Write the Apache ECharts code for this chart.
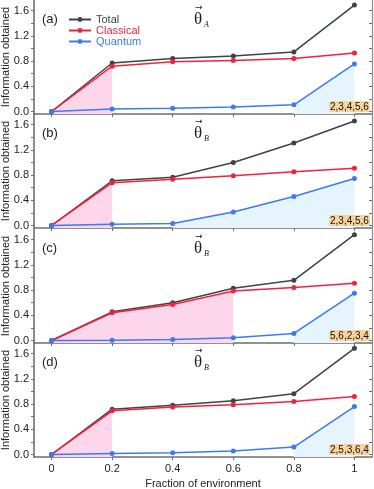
<!DOCTYPE html>
<html>
<head>
<meta charset="utf-8">
<script src="https://cdn.jsdelivr.net/npm/echarts@6/dist/echarts.min.js"></script>
<style>html,body{margin:0;padding:0;background:#fff}#c{width:374px;height:489px}</style>
</head>
<body>
<div id="c"></div>
<script>
const xs = [0, 0.2, 0.4, 0.6, 0.8, 1];
const xTickLabels = ['0', '0.2', '0.4', '0.6', '0.8', '1'];
const yTicks = [0, 0.2, 0.4, 0.6, 0.8, 1.0, 1.2, 1.4, 1.6];
const yLabelVals = [0, 0.4, 0.8, 1.2, 1.6];

const totalA = [0, 0.77, 0.84, 0.88, 0.945, 1.69];
const classicalA = [0, 0.72, 0.79, 0.81, 0.84, 0.93];
const quantumA = [0, 0.04, 0.05, 0.07, 0.105, 0.755];

const totalB = [0, 0.71, 0.765, 1.0, 1.31, 1.66];
const classicalB = [0, 0.68, 0.735, 0.79, 0.855, 0.91];
const quantumB = [0, 0.02, 0.03, 0.215, 0.46, 0.745];

const totalC = [0, 0.455, 0.6, 0.83, 0.955, 1.68];
const classicalC = [0, 0.44, 0.57, 0.785, 0.84, 0.91];
const quantumC = [0, 0.005, 0.016, 0.043, 0.112, 0.75];

const totalD = [0, 0.72, 0.78, 0.854, 0.965, 1.685];
const classicalD = [0, 0.693, 0.752, 0.79, 0.843, 0.92];
const quantumD = [0, 0.016, 0.027, 0.054, 0.118, 0.76];

const panelLabels = ['(a)', '(b)', '(c)', '(d)'];
const thetaSubs = ['A', 'B', 'B', 'B'];
const orderLabels = ['2,3,4,5,6', '2,3,4,5,6', '5,6,2,3,4', '2,5,3,6,4'];
const pinkEndIdx = [1, 1, 3, 1];
const blueStartIdx = [4, 2, 4, 4];

const totals = [totalA, totalB, totalC, totalD];
const classicals = [classicalA, classicalB, classicalC, classicalD];
const quantums = [quantumA, quantumB, quantumC, quantumD];

const C_TOTAL = '#3d4542', C_CLASS = '#f2213d', C_QUANT = '#3c7af2';
const C_PINK = '#fcd6ea', C_BLUE = '#e6f4fd';
const FONT = 'Liberation Sans, Arial, sans-serif';

const tops = [0, 114, 229, 343];
const H = 114;
const YMIN = -0.04, YMAX = 1.77, XMIN = -0.058, XMAX = 1.058;

const grids = [], xAxes = [], yAxes = [], series = [], graphics = [];
const pairs = a => xs.map((x, i) => [x, a[i]]);

for (let p = 0; p < 4; p++) {
  grids.push({left: 34, right: 2, top: tops[p], height: H, containLabel: false, outerBoundsMode: 'none'});
  const last = p === 3;
  xAxes.push({
    type: 'value', gridIndex: p, min: XMIN, max: XMAX, position: 'bottom',
    axisLine: {show: true, onZero: false, lineStyle: {color: '#6e6e6e', width: 1.6}},
    axisTick: {show: true, inside: false, length: 3, customValues: xs, lineStyle: {color: '#6e6e6e', width: 1}},
    axisLabel: {show: last, customValues: xs, margin: 6, fontSize: 11, color: '#222', fontFamily: FONT,
      formatter: v => { const i = xs.findIndex(x => Math.abs(x - v) < 1e-6); return i >= 0 ? xTickLabels[i] : ''; }},
    splitLine: {show: false},
    name: last ? 'Fraction of environment' : '', nameLocation: 'middle', nameGap: 21, nameMoveOverlap: false,
    nameTextStyle: {fontSize: 11, color: '#222', fontFamily: FONT}
  });
  yAxes.push({
    type: 'value', gridIndex: p, min: YMIN, max: YMAX, position: 'left',
    axisLine: {show: true, onZero: false, lineStyle: {color: '#6e6e6e', width: 1.6}},
    axisTick: {show: true, inside: false, length: 3, customValues: yTicks, lineStyle: {color: '#6e6e6e', width: 1}},
    axisLabel: {show: true, customValues: yLabelVals, margin: 5, fontSize: 11, color: '#222', fontFamily: FONT,
      formatter: v => v.toFixed(1)},
    splitLine: {show: false},
    name: 'Information obtained', nameLocation: 'middle', nameGap: 23, nameMoveOverlap: false,
    nameTextStyle: {fontSize: 11, color: '#222', fontFamily: FONT}
  });
  yAxes.push({
    type: 'value', gridIndex: p, min: YMIN, max: YMAX, position: 'right',
    axisLine: {show: true, onZero: false, lineStyle: {color: '#8a8a8a', width: 1.2}},
    axisTick: {show: true, inside: true, length: 3, customValues: yTicks, lineStyle: {color: '#6e6e6e', width: 1}},
    axisLabel: {show: false}, splitLine: {show: false}
  });

  const yi = p * 2;
  const pe = pinkEndIdx[p], bs = blueStartIdx[p];
  series.push({
    name: 'pinkFill' + p, type: 'line', xAxisIndex: p, yAxisIndex: yi, z: 1,
    data: pairs(classicals[p]).slice(0, pe + 1), symbol: 'none', silent: true,
    lineStyle: {width: 0, opacity: 0}, areaStyle: {color: C_PINK, opacity: 1, origin: 'start'}
  });
  series.push({
    name: 'blueFill' + p, type: 'line', xAxisIndex: p, yAxisIndex: yi, z: 1,
    data: pairs(quantums[p]).slice(bs), symbol: 'none', silent: true,
    lineStyle: {width: 0, opacity: 0}, areaStyle: {color: C_BLUE, opacity: 1, origin: 'start'}
  });
  [['Total', totals[p], C_TOTAL], ['Classical', classicals[p], C_CLASS], ['Quantum', quantums[p], C_QUANT]].forEach(([nm, arr, col]) => {
    series.push({
      name: nm, type: 'line', xAxisIndex: p, yAxisIndex: yi, z: 3,
      data: pairs(arr), symbol: 'circle', symbolSize: 5, showSymbol: true,
      lineStyle: {color: col, width: 1.5}, itemStyle: {color: col, borderWidth: 0},
      animation: false
    });
  });

  const T = tops[p];
  graphics.push({type: 'text', x: 42, y: T + 13, style: {text: panelLabels[p], fill: '#222', font: '13px ' + FONT}});
  graphics.push({type: 'text', x: 194, y: T + 11, style: {text: 'θ', fill: '#222', font: '17px "Liberation Serif", "DejaVu Serif", serif'}});
  graphics.push({type: 'text', x: 195, y: T + 3, style: {text: '→', fill: '#222', font: '9px "DejaVu Sans", sans-serif'}});
  graphics.push({type: 'text', x: 204, y: T + 21, style: {text: thetaSubs[p], fill: '#222', font: 'italic 8px "Liberation Serif", serif'}});
  graphics.push({type: 'text', x: 329, y: T + 101, z: 10, style: {text: orderLabels[p], fill: '#111', font: '10px ' + FONT,
    backgroundColor: '#f8d49c', padding: [1, 1, 0, 1], borderRadius: 2}});
}

const chart = echarts.init(document.getElementById('c'), null, {renderer: 'canvas'});
chart.setOption({
  animation: false,
  backgroundColor: '#fff',
  grid: grids, xAxis: xAxes, yAxis: yAxes, series: series, graphic: graphics,
  legend: {
    orient: 'vertical', left: 68, top: 14, itemWidth: 22, itemHeight: 6, itemGap: 0, padding: 0,
    textStyle: {fontSize: 11, fontFamily: FONT, lineHeight: 11},
    data: [
      {name: 'Total', textStyle: {color: C_TOTAL}},
      {name: 'Classical', textStyle: {color: C_CLASS}},
      {name: 'Quantum', textStyle: {color: C_QUANT}}
    ],
    selectedMode: false
  }
});
</script>
</body>
</html>
